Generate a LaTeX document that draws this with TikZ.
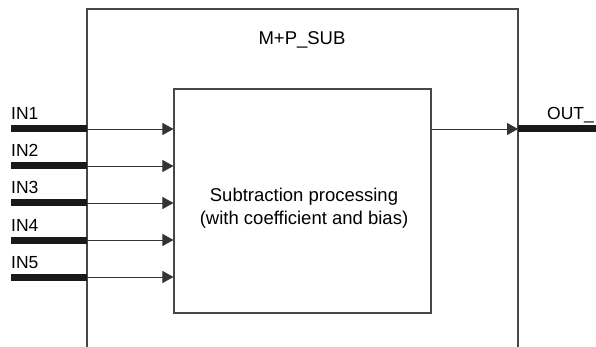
\documentclass[tikz,border=0pt]{standalone}
\usepackage{fontspec}
\setmainfont{Liberation Sans}
\usetikzlibrary{arrows.meta}
\usetikzlibrary{positioning}

\begin{document}
\begin{tikzpicture}[
    x=1pt, y=-1pt,
    % Define line styles
    frame/.style={draw=black!72, line width=1.1pt},
    bus/.style={line width=7pt, black!90},
    signal/.style={-{Triangle[length=11pt,width=12pt]}, draw=black!80, line width=0.9pt},
    txt/.style={font=\fontsize{18.5}{23}\selectfont, inner sep=0pt, anchor=base}, % Style for block texts
    pin/.style={font=\fontsize{17.5}{21}\selectfont, inner sep=0pt, anchor=base west} % Style for pin names
]

% Define frame limits
\def\fl{87}
\def\fr{518}
\def\ft{9}

% Fix the page size
\useasboundingbox (0,0) rectangle (596,347);

% Outer function block (open at the bottom)
\draw[frame] (\fl,347) -- (\fl,\ft) -- (\fr,\ft) -- (\fr,347);
\node[txt] (title) at (302,45) {M+P\_SUB};

% Processing block
\node[frame, minimum width=257pt, minimum height=224pt, inner sep=0pt] (proc) at (302.5,201) {};
\node[txt] (proctext1) at (304,202) {Subtraction processing};
\node[txt] (proctext2) at (304,225) {(with coefficient and bias)};

% Inputs
\foreach \i/\y in {1/129,2/166,3/203,4/240,5/277} {
    \coordinate (in\i) at (11,\y);
    \coordinate (edge\i) at (\fl,\y);
    \draw[bus] (in\i) -- (edge\i);
    \draw[signal] (edge\i) -- (proc.west |- edge\i);
    \node[pin] (inlabel\i) at (11,\y-9) {IN\i};
}

% Output
\coordinate (outedge) at (\fr,129);
\coordinate (outend) at (596,129);
\draw[signal] (proc.east |- outedge) -- (outedge);
\draw[bus] (outedge) -- (outend);
\node[pin] (outlabel) at (547,120) {OUT\_};

\end{tikzpicture}
\end{document}
